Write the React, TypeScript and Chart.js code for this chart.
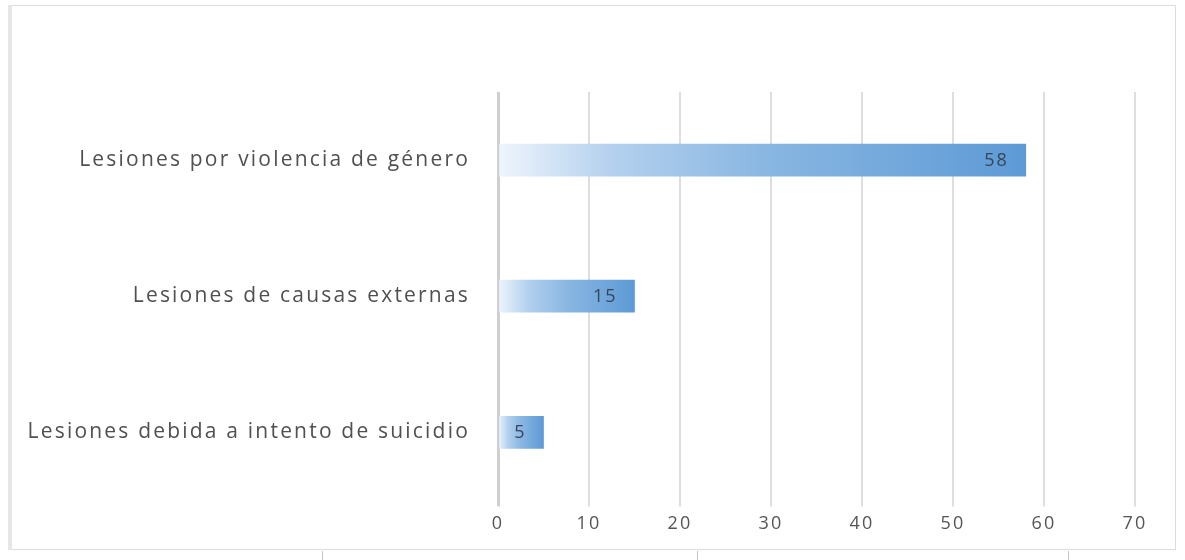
import React, { useEffect, useRef } from "react";
import { Chart, registerables } from "chart.js";

Chart.register(...registerables);

const categories = [
  "Lesiones por violencia de género",
  "Lesiones de causas externas",
  "Lesiones debida a intento de suicidio",
];
const values = [58, 15, 5];
const xTickValues = [0, 10, 20, 30, 40, 50, 60, 70];

const FONT = "'Open Sans', 'DejaVu Sans', sans-serif";

const framePlugin = {
  id: "frame",
  beforeDraw(chart: any) {
    const ctx = chart.ctx;
    ctx.save();
    ctx.fillStyle = "#ffffff";
    ctx.fillRect(0, 0, chart.width, chart.height);
    ctx.strokeStyle = "#dcdcdc";
    ctx.lineWidth = 1;
    ctx.strokeRect(8.5, 5.5, 1167, 544);
    ctx.fillStyle = "#e6e6e6";
    ctx.fillRect(8, 5, 4, 545);
    ctx.strokeStyle = "#c4c4c4";
    ctx.beginPath();
    [322, 697, 1068].forEach((x) => {
      ctx.moveTo(x + 0.5, 551);
      ctx.lineTo(x + 0.5, 560);
    });
    ctx.stroke();
    ctx.restore();
    ctx.letterSpacing = "2.2px";
  },
  afterDraw(chart: any) {
    chart.ctx.letterSpacing = "0px";
  },
};

const valueLabelPlugin = {
  id: "valueLabels",
  afterDatasetsDraw(chart: any) {
    const ctx = chart.ctx;
    const meta = chart.getDatasetMeta(0);
    ctx.save();
    ctx.letterSpacing = "2px";
    ctx.font = `18px ${FONT}`;
    ctx.fillStyle = "#37445a";
    ctx.textAlign = "right";
    ctx.textBaseline = "middle";
    meta.data.forEach((bar: any, i: number) => {
      ctx.fillText(String(values[i]), bar.x - 17, bar.y + 1);
    });
    ctx.restore();
  },
};

function barGradient(context: any) {
  const chart = context.chart;
  const xs = chart.scales && chart.scales.x;
  const i = context.dataIndex;
  if (!xs || i === undefined || !chart.chartArea) return "#7fb0e0";
  const x0 = xs.getPixelForValue(0);
  const x1 = xs.getPixelForValue(values[i]);
  const g = chart.ctx.createLinearGradient(x0, 0, x1, 0);
  g.addColorStop(0, "#eef5fc");
  g.addColorStop(0.22, "#b3d0ee");
  g.addColorStop(0.5, "#8ab7e2");
  g.addColorStop(1, "#5d9ad6");
  return g;
}

export default function App() {
  const ref = useRef<HTMLCanvasElement | null>(null);

  useEffect(() => {
    if (!ref.current) return;
    const chart = new Chart(ref.current, {
      type: "bar",
      data: {
        labels: categories,
        datasets: [
          {
            data: values,
            backgroundColor: barGradient,
            borderWidth: 0,
            barThickness: 32,
          },
        ],
      },
      plugins: [framePlugin, valueLabelPlugin],
      options: {
        indexAxis: "y",
        animation: false,
        responsive: false,
        maintainAspectRatio: false,
        layout: { padding: { top: 92, right: 50, bottom: 18, left: 0 } },
        plugins: {
          legend: { display: false },
          tooltip: { enabled: false },
          title: { display: false },
        },
        scales: {
          x: {
            type: "linear",
            position: "bottom",
            min: 0,
            max: 70,
            afterBuildTicks: (scale: any) => {
              scale.ticks = xTickValues.map((v) => ({ value: v }));
            },
            grid: {
              color: (c: any) => (c.tick && c.tick.value === 0 ? "#cfcfcf" : "#dedede"),
              lineWidth: (c: any) => (c.tick && c.tick.value === 0 ? 3 : 2),
              drawTicks: true,
              tickLength: 6,
            },
            border: { display: false },
            ticks: {
              color: "#555555",
              font: { family: FONT, size: 18 },
              padding: 7,
            },
          },
          y: {
            type: "category",
            afterFit: (scale: any) => {
              scale.width = 498;
            },
            grid: { display: false, drawTicks: false },
            border: { display: false },
            ticks: {
              color: "#505050",
              font: { family: FONT, size: 21 },
              padding: 28,
            },
          },
        },
      },
    } as any);
    return () => chart.destroy();
  }, []);

  return (
    <div style={{ position: "absolute", left: 0, top: 0, width: 1185, height: 560, background: "#fff" }}>
      <canvas ref={ref} width={1185} height={560} style={{ display: "block", width: 1185, height: 560 }} />
    </div>
  );
}
